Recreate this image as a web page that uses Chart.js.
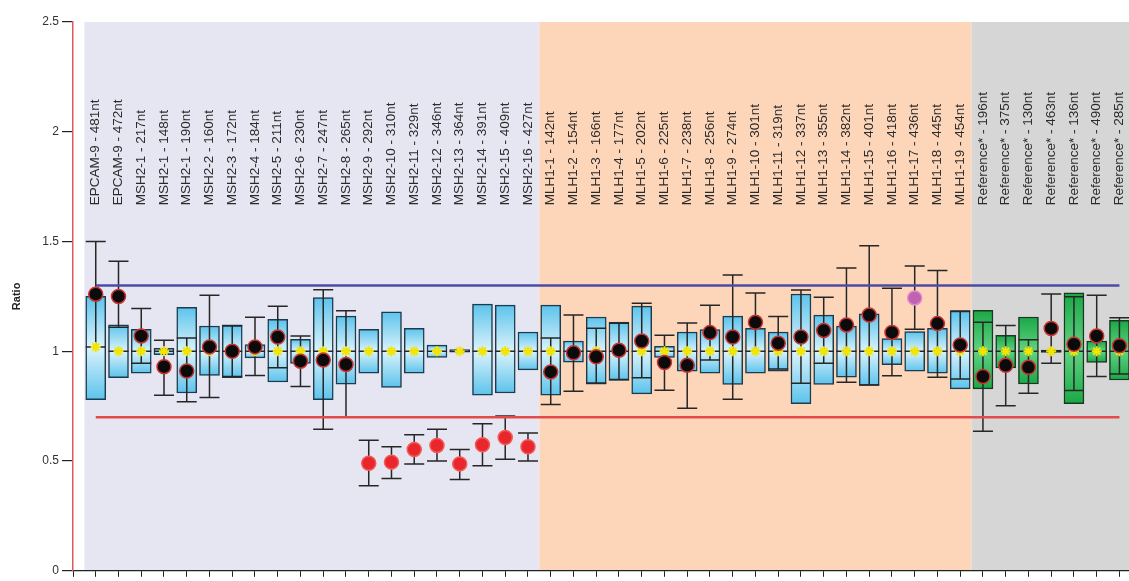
<!DOCTYPE html>
<html>
<head>
<meta charset="utf-8">
<script src="https://cdn.jsdelivr.net/npm/chart.js@4.4.1/dist/chart.umd.min.js"></script>
<style>
  html, body { margin: 0; padding: 0; background: #fff; }
  canvas { display: block; }
</style>
</head>
<body>
<canvas id="ratioChart" width="1129" height="581"></canvas>
<script>
const probeLabels = [
  'EPCAM-9 - 481nt', 'EPCAM-9 - 472nt', 'MSH2-1 - 217nt', 'MSH2-1 - 148nt', 'MSH2-1 - 190nt',
  'MSH2-2 - 160nt', 'MSH2-3 - 172nt', 'MSH2-4 - 184nt', 'MSH2-5 - 211nt', 'MSH2-6 - 230nt',
  'MSH2-7 - 247nt', 'MSH2-8 - 265nt', 'MSH2-9 - 292nt', 'MSH2-10 - 310nt', 'MSH2-11 - 329nt',
  'MSH2-12 - 346nt', 'MSH2-13 - 364nt', 'MSH2-14 - 391nt', 'MSH2-15 - 409nt', 'MSH2-16 - 427nt',
  'MLH1-1 - 142nt', 'MLH1-2 - 154nt', 'MLH1-3 - 166nt', 'MLH1-4 - 177nt', 'MLH1-5 - 202nt',
  'MLH1-6 - 225nt', 'MLH1-7 - 238nt', 'MLH1-8 - 256nt', 'MLH1-9 - 274nt', 'MLH1-10 - 301nt',
  'MLH1-11 - 319nt', 'MLH1-12 - 337nt', 'MLH1-13 - 355nt', 'MLH1-14 - 382nt', 'MLH1-15 - 401nt',
  'MLH1-16 - 418nt', 'MLH1-17 - 436nt', 'MLH1-18 - 445nt', 'MLH1-19 - 454nt',
  'Reference* - 196nt', 'Reference* - 375nt', 'Reference* - 130nt', 'Reference* - 463nt',
  'Reference* - 136nt', 'Reference* - 490nt', 'Reference* - 285nt'
];

// reference range (box)
const boxLow = [
  0.78, 0.88, 0.90, 0.985, 0.81, 0.89, 0.88, 0.97, 0.86, 0.945,
  0.78, 0.85, 0.90, 0.835, 0.90, 0.972, 0.996, 0.80, 0.81, 0.915,
  0.80, 0.95, 0.85, 0.867, 0.806, 0.972, 0.909, 0.90, 0.849, 0.90,
  0.909, 0.761, 0.849, 0.882, 0.844, 0.939, 0.909, 0.90, 0.829,
  0.829, 0.924, 0.851, 0.995, 0.761, 0.949, 0.869
];
const boxHigh = [
  1.25, 1.12, 1.10, 1.013, 1.20, 1.115, 1.12, 1.03, 1.145, 1.055,
  1.245, 1.16, 1.10, 1.18, 1.105, 1.028, 1.008, 1.215, 1.21, 1.088,
  1.21, 1.047, 1.156, 1.133, 1.206, 1.023, 1.088, 1.099, 1.16, 1.105,
  1.088, 1.261, 1.165, 1.115, 1.171, 1.058, 1.09, 1.105, 1.183,
  1.186, 1.073, 1.156, 1.005, 1.266, 1.047, 1.141
];
const medianRatio = [
  1.02, 1, 1, 1, 1, 1, 1, 1, 1, 1,
  1, 1, 1, 1, 1, 1, 1, 1, 1, 1,
  1, 1, 1, 1, 1, 1, 1, 1, 1, 1,
  1, 1, 1, 1, 1, 1, 1, 1, 1,
  1, 1, 1, 1, 1, 1, 1
];

// sample ratio and its confidence range
const sampleRatio = [
  1.26, 1.25, 1.07, 0.93, 0.91, 1.02, 1.00, 1.02, 1.065, 0.955,
  0.96, 0.94, 0.49, 0.495, 0.553, 0.571, 0.487, 0.574, 0.607, 0.565,
  0.906, 0.993, 0.975, 1.005, 1.047, 0.949, 0.936, 1.085, 1.065, 1.132,
  1.037, 1.065, 1.095, 1.12, 1.165, 1.086, 1.243, 1.126, 1.029,
  0.885, 0.936, 0.927, 1.104, 1.032, 1.07, 1.025
];
const ciLow = [
  1.02, 1.11, 0.945, 0.80, 0.77, 0.79, 0.885, 0.89, 0.925, 0.84,
  0.645, 0.70, 0.387, 0.42, 0.487, 0.50, 0.416, 0.478, 0.508, 0.50,
  0.758, 0.818, 0.855, 0.872, 0.879, 0.823, 0.74, 0.96, 0.782, 1.0,
  0.919, 0.854, 0.945, 0.859, 0.846, 0.889, 1.10, 0.882, 0.874,
  0.636, 0.752, 0.809, 0.946, 0.821, 0.885, 0.897
];
const ciHigh = [
  1.50, 1.41, 1.195, 1.05, 1.06, 1.255, 1.115, 1.155, 1.205, 1.07,
  1.28, 1.185, 0.595, 0.565, 0.62, 0.645, 0.553, 0.67, 0.705, 0.628,
  1.06, 1.165, 1.105, 1.128, 1.219, 1.073, 1.129, 1.21, 1.347, 1.266,
  1.159, 1.279, 1.246, 1.379, 1.481, 1.287, 1.388, 1.368, 1.183,
  1.132, 1.118, 1.053, 1.261, 1.248, 1.255, 1.153
];
// n = normal, l = loss, a = ambiguous
const sampleCall = [
  'n', 'n', 'n', 'n', 'n', 'n', 'n', 'n', 'n', 'n',
  'n', 'n', 'l', 'l', 'l', 'l', 'l', 'l', 'l', 'l',
  'n', 'n', 'n', 'n', 'n', 'n', 'n', 'n', 'n', 'n',
  'n', 'n', 'n', 'n', 'n', 'n', 'a', 'n', 'n',
  'n', 'n', 'n', 'n', 'n', 'n', 'n'
];

const upperLimit = 1.3;
const lowerLimit = 0.7;
const yTicks = [0, 0.5, 1, 1.5, 2, 2.5];

const FONT = '"Liberation Sans", Arial, sans-serif';
const BOX_W = 20;

const groupOf = (label) => label.startsWith('Reference') ? 'ref' : label.startsWith('MLH1') ? 'mlh1' : 'msh2';
const BAND_COLORS = { msh2: '#e6e6f3', mlh1: '#fdd6ba', ref: '#d6d6d6' };

// coloured background bands, one per probe group
const bandsPlugin = {
  id: 'bands',
  beforeDraw(chart) {
    const { ctx, scales: { x, y } } = chart;
    const top = y.getPixelForValue(y.max), bottom = y.getPixelForValue(0);
    let start = 0;
    for (let i = 1; i <= probeLabels.length; i++) {
      if (i === probeLabels.length || groupOf(probeLabels[i]) !== groupOf(probeLabels[start])) {
        const left = x.getPixelForValue(start - 0.5);
        const right = x.getPixelForValue(i - 0.5);
        ctx.fillStyle = BAND_COLORS[groupOf(probeLabels[start])];
        ctx.fillRect(left, top, right - left, bottom - top);
        start = i;
      }
    }
  },
};

// whiskers with caps plus the median line, drawn right after the boxes
const whiskerPlugin = {
  id: 'whiskers',
  afterDatasetDraw(chart, args) {
    if (args.index !== 0) return;
    const { ctx, scales: { x, y } } = chart;
    ctx.save();
    ctx.strokeStyle = '#262626';
    ctx.lineWidth = 1.5;
    probeLabels.forEach((_, i) => {
      const cx = x.getPixelForValue(i);
      const hw = BOX_W / 2;
      const lo = y.getPixelForValue(ciLow[i]);
      const hi = y.getPixelForValue(ciHigh[i]);
      const md = y.getPixelForValue(medianRatio[i]);
      ctx.beginPath();
      ctx.moveTo(cx, lo); ctx.lineTo(cx, hi);
      ctx.moveTo(cx - hw, lo); ctx.lineTo(cx + hw, lo);
      ctx.moveTo(cx - hw, hi); ctx.lineTo(cx + hw, hi);
      ctx.moveTo(cx - hw, md); ctx.lineTo(cx + hw, md);
      ctx.stroke();
    });
    ctx.restore();
  },
};

// vertical probe names inside the plot
const probeNamePlugin = {
  id: 'probeNames',
  afterDraw(chart) {
    const { ctx, scales: { x, y } } = chart;
    const base = y.getPixelForValue(1.665);
    ctx.save();
    ctx.fillStyle = '#2b2b2b';
    ctx.font = '13.5px ' + FONT;
    ctx.textAlign = 'left';
    ctx.textBaseline = 'middle';
    probeLabels.forEach((label, i) => {
      ctx.save();
      ctx.translate(x.getPixelForValue(i), base);
      ctx.rotate(-Math.PI / 2);
      ctx.fillText(label, 0, 0);
      ctx.restore();
    });
    ctx.restore();
  },
};

function boxFill(context) {
  const chart = context.chart;
  if (!chart.chartArea || context.type !== 'data') return '#9bdaf3';
  const i = context.dataIndex;
  const y = chart.scales.y;
  const top = y.getPixelForValue(boxHigh[i]);
  const bot = y.getPixelForValue(boxLow[i]);
  const span = Math.max(bot - top, 1);
  const mid = Math.min(0.9, Math.max(0.1, (y.getPixelForValue(medianRatio[i]) - top) / span));
  const g = chart.ctx.createLinearGradient(0, top, 0, bot);
  if (groupOf(probeLabels[i]) === 'ref') {
    g.addColorStop(0, '#1aa846');
    g.addColorStop(mid, '#62d283');
    g.addColorStop(1, '#1aa846');
  } else {
    g.addColorStop(0, '#5cc3ec');
    g.addColorStop(mid, '#dcf3fb');
    g.addColorStop(1, '#5cc3ec');
  }
  return g;
}

const lastIdx = probeLabels.length - 1;

new Chart(document.getElementById('ratioChart'), {
  data: {
    datasets: [
      {
        type: 'bar',
        data: probeLabels.map((_, i) => ({ x: i, y: [boxLow[i], boxHigh[i]] })),
        backgroundColor: boxFill,
        borderColor: probeLabels.map(l => groupOf(l) === 'ref' ? '#173a1f' : '#1c3b4c'),
        borderWidth: 1.5,
        borderSkipped: false,
        barThickness: BOX_W,
        order: 4,
      },
      {
        type: 'line',
        data: [{ x: 0, y: upperLimit }, { x: lastIdx, y: upperLimit }],
        borderColor: '#4b4ca4',
        borderWidth: 2.5,
        pointRadius: 0,
        order: 3,
      },
      {
        type: 'line',
        data: [{ x: 0, y: lowerLimit }, { x: lastIdx, y: lowerLimit }],
        borderColor: '#e54a4a',
        borderWidth: 2.5,
        pointRadius: 0,
        order: 3,
      },
      {
        type: 'scatter',
        data: probeLabels.map((_, i) => ({ x: i, y: medianRatio[i] })),
        pointStyle: 'star',
        pointRadius: 5,
        borderColor: '#f2e600',
        borderWidth: 2,
        order: 2,
      },
      {
        type: 'scatter',
        data: probeLabels.map((_, i) => ({ x: i, y: sampleRatio[i] })),
        pointRadius: 7,
        backgroundColor: sampleCall.map(c => c === 'l' ? '#e8262b' : c === 'a' ? '#c062b4' : '#0b0b0b'),
        borderColor: sampleCall.map(c => c === 'l' ? '#f25a5a' : c === 'a' ? '#e58ac8' : '#c93434'),
        borderWidth: 1.5,
        order: 1,
      },
    ],
  },
  options: {
    responsive: false,
    animation: false,
    layout: { autoPadding: false, padding: { top: 22, right: 0, bottom: 0, left: 0 } },
    plugins: {
      legend: { display: false },
      tooltip: { enabled: false },
    },
    scales: {
      x: {
        type: 'linear',
        offset: false,
        min: -1,
        max: 45.42,
        afterBuildTicks: s => { s.ticks = [-1, ...probeLabels.map((_, i) => i)].map(v => ({ value: v })); },
        afterFit: s => { s.height = 6; },
        ticks: { display: false },
        grid: { drawOnChartArea: false, tickLength: 6, color: '#222', lineWidth: 1, offset: false },
        border: { color: '#222', width: 1.2 },
      },
      y: {
        min: 0,
        max: 2.5,
        afterBuildTicks: s => { s.ticks = yTicks.map(v => ({ value: v })); },
        afterFit: s => { s.width = 73; },
        ticks: { color: '#333', padding: 3, font: { family: FONT, size: 12 }, callback: v => String(v) },
        grid: { drawOnChartArea: false, tickLength: 11, color: '#222', lineWidth: 1.2 },
        border: { color: '#e05a5a', width: 1.5 },
        title: { display: true, text: 'Ratio', color: '#222', padding: { top: 10 }, font: { family: FONT, size: 11, weight: 'bold' } },
      },
    },
  },
  plugins: [bandsPlugin, whiskerPlugin, probeNamePlugin],
});
</script>
</body>
</html>
